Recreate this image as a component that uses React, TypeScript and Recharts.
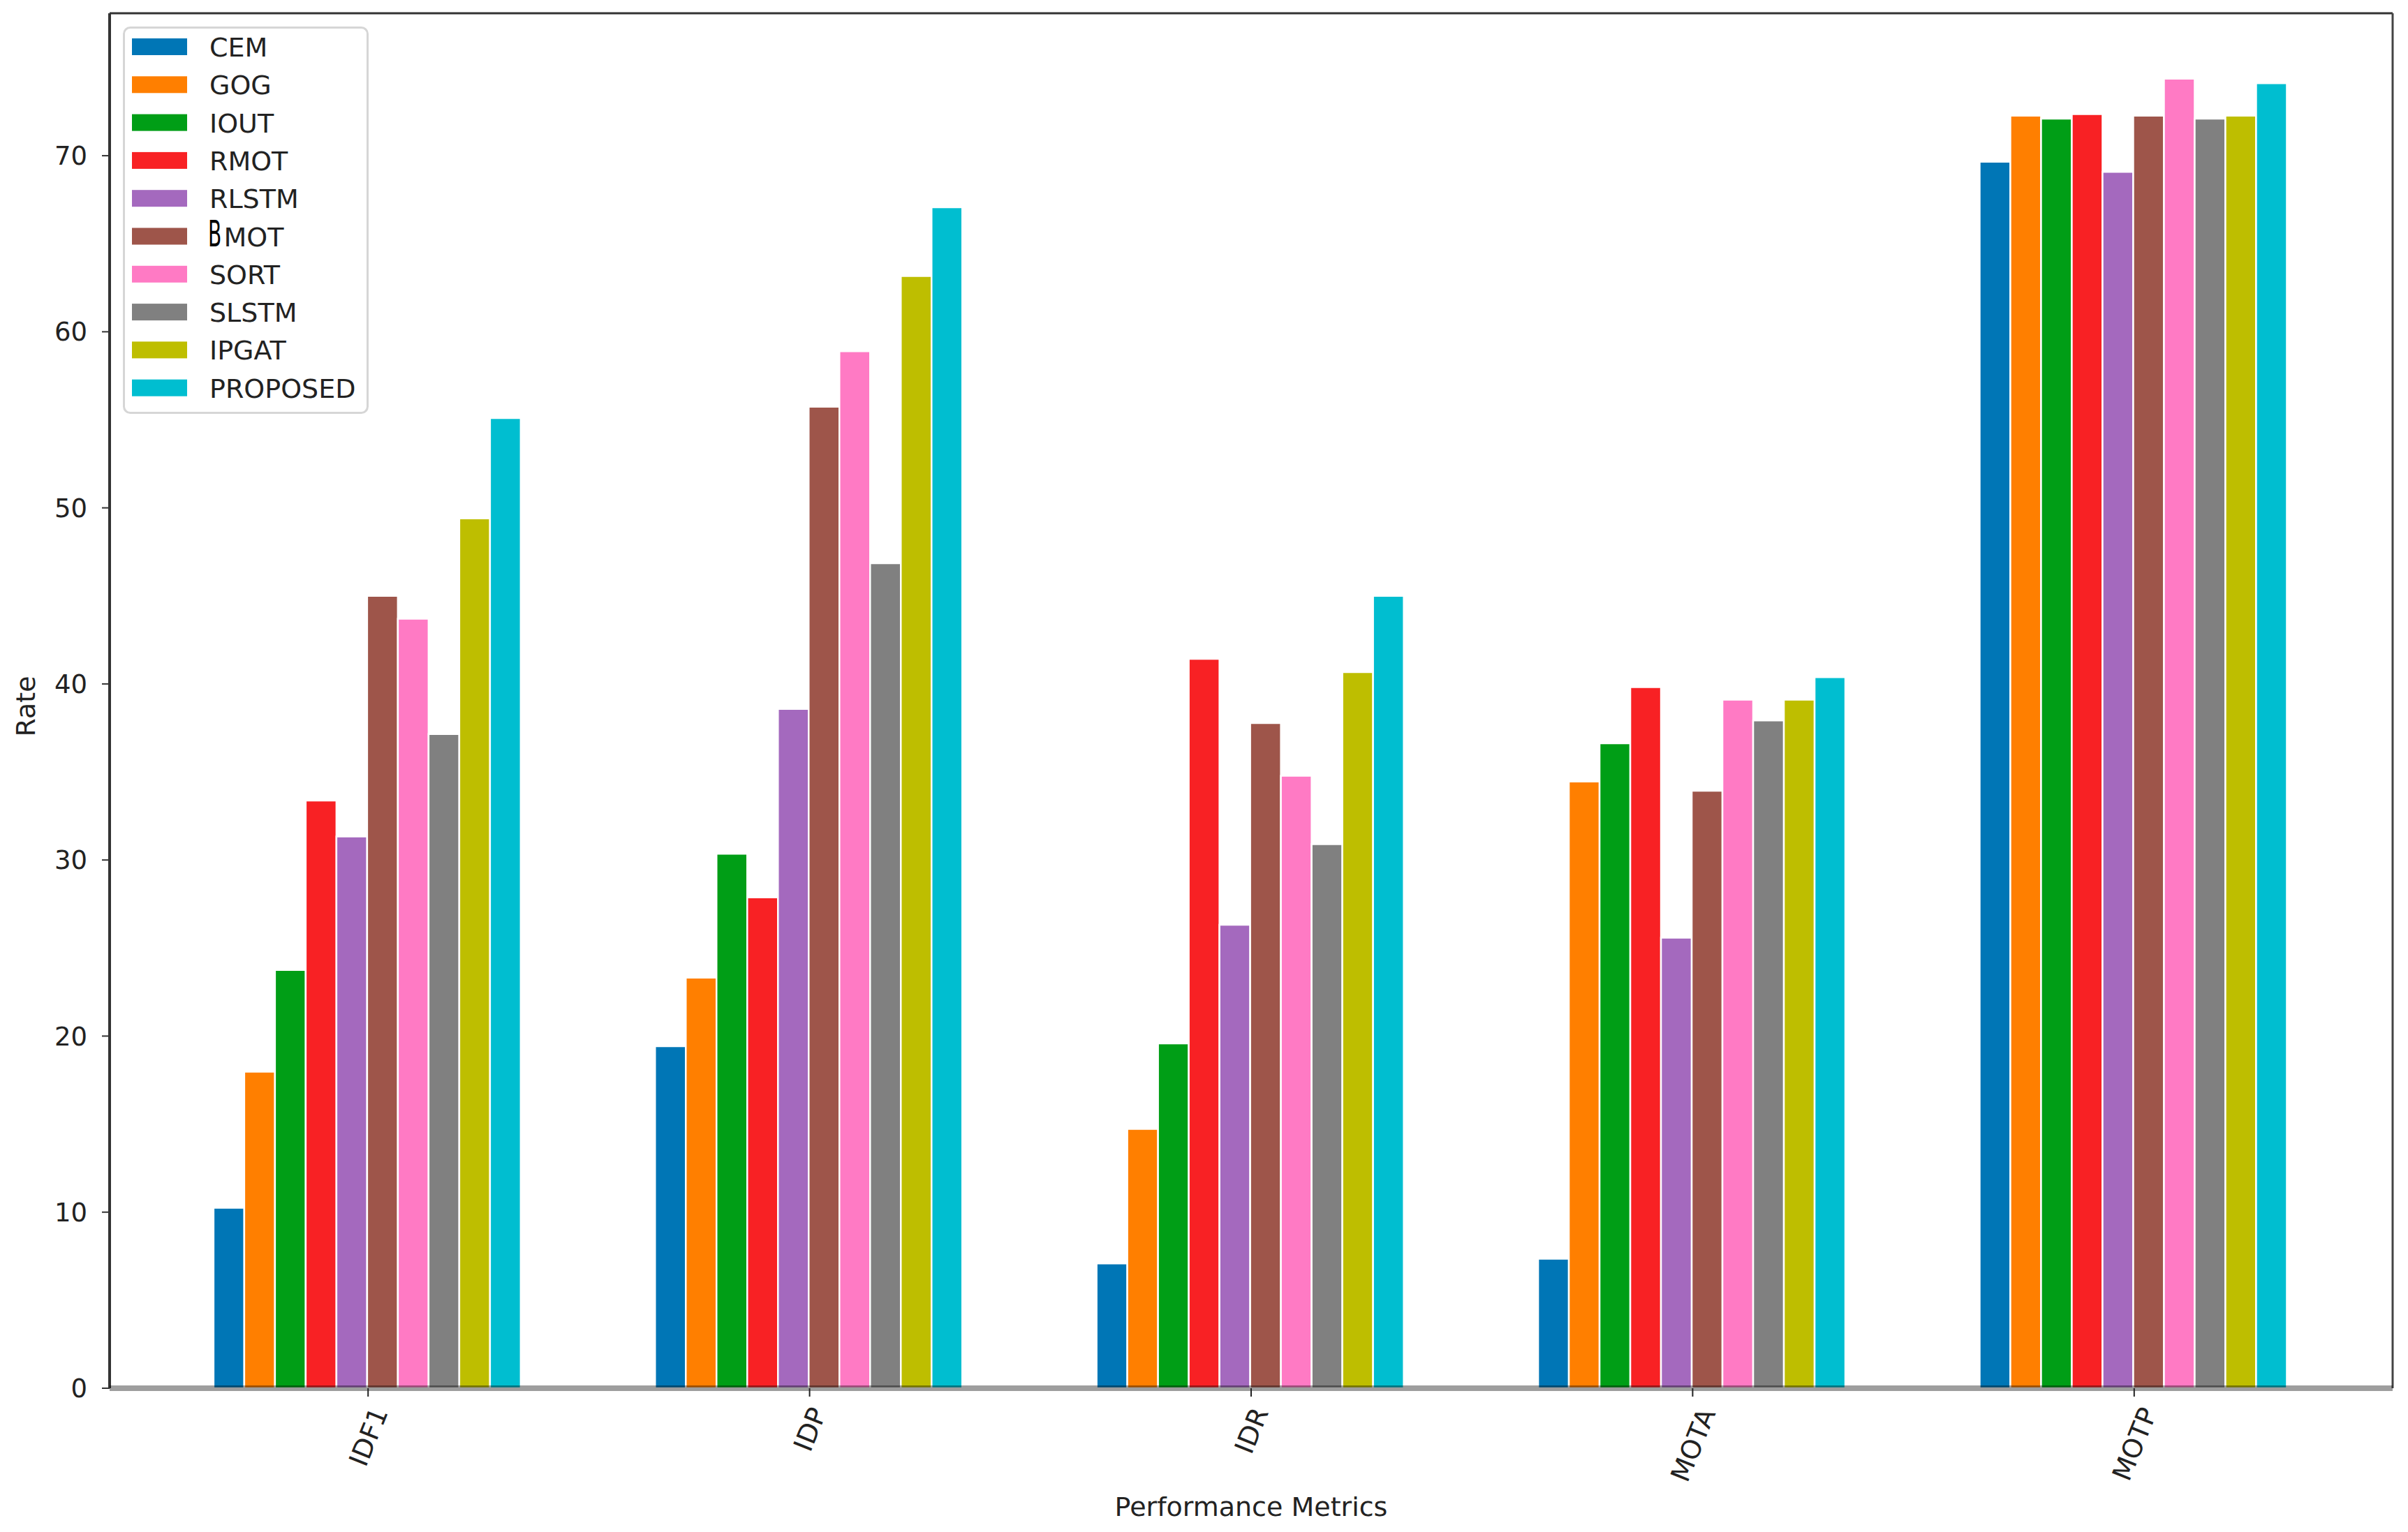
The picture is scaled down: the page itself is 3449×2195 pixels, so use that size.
import React from 'react';
import { BarChart, Bar, XAxis, YAxis, Legend } from 'recharts';

const METRICS = ['IDF1', 'IDP', 'IDR', 'MOTA', 'MOTP'];
const CEM = [10.25, 19.42, 7.09, 7.35, 69.66];
const GOG = [17.98, 23.32, 14.73, 34.46, 72.27];
const IOUT = [23.75, 30.35, 19.58, 36.63, 72.1];
const RMOT = [33.38, 27.88, 41.42, 39.82, 72.36];
const RLSTM = [31.34, 38.58, 26.32, 25.59, 69.08];
const BMOT = [45.0, 55.74, 37.78, 33.93, 72.27];
const SORT = [43.7, 58.89, 34.78, 39.1, 74.37];
const SLSTM = [37.15, 46.85, 30.9, 37.93, 72.1];
const IPGAT = [49.4, 63.17, 40.67, 39.1, 72.27];
const PROPOSED = [55.1, 67.07, 45.0, 40.38, 74.12];

const Y_TICKS = [0, 10, 20, 30, 40, 50, 60, 70];
const Y_MAX = 78.09;

const SERIES_NAMES = ['CEM', 'GOG', 'IOUT', 'RMOT', 'RLSTM', 'BMOT', 'SORT', 'SLSTM', 'IPGAT', 'PROPOSED'];
const SERIES_VALUES = [CEM, GOG, IOUT, RMOT, RLSTM, BMOT, SORT, SLSTM, IPGAT, PROPOSED];
const SERIES_COLORS = ['#0076B6', '#FF7F00', '#009E16', '#F82124', '#A469BE', '#9E554A', '#FF7AC4', '#808080', '#BEBE00', '#00BED0'];

const data = METRICS.map((m, i) => {
  const row: Record<string, any> = { metric: m };
  SERIES_NAMES.forEach((s, j) => {
    row[s] = SERIES_VALUES[j][i];
  });
  return row;
});

const FONT = 'DejaVu Sans';
const TEXT = '#222';

const CHAR_W: Record<string, number> = {
  I: 0.295, D: 0.77, F: 0.575, '1': 0.636, P: 0.603, R: 0.695, M: 0.863, O: 0.787, T: 0.611, A: 0.684,
};

const ANGLE = 68;

const XTick = (props: any) => {
  const { x, y, payload } = props;
  const fs = 38;
  const th = (ANGLE * Math.PI) / 180;
  const label = String(payload.value);
  const L = [...label].reduce((s, c) => s + (CHAR_W[c] ?? 0.65), 0) * fs;
  const h = fs * 0.73;
  const H = L * Math.sin(th) + h * Math.cos(th);
  const cy = y + H / 2;
  return (
    <text
      x={x}
      y={cy}
      dy={h / 2}
      textAnchor="middle"
      transform={`rotate(-${ANGLE}, ${x}, ${cy})`}
      fontSize={fs}
      fontFamily={FONT}
      fill={TEXT}
    >
      {label}
    </text>
  );
};

const XTitle = (props: any) => {
  const vb = props.viewBox || { x: 149, y: 1981, width: 3270, height: 198 };
  return (
    <text x={vb.x + vb.width / 2} y={vb.y + 183} textAnchor="middle" fontSize={38} fontFamily={FONT} fill={TEXT}>
      Performance Metrics
    </text>
  );
};

const YTitle = (props: any) => {
  const vb = props.viewBox || { x: 0, y: 11, width: 149, height: 1970 };
  const cx = 29;
  const cy = vb.y + vb.height / 2 + 8;
  return (
    <text
      x={cx}
      y={cy}
      dy={13}
      textAnchor="middle"
      transform={`rotate(-90, ${cx}, ${cy})`}
      fontSize={38}
      fontFamily={FONT}
      fill={TEXT}
    >
      Rate
    </text>
  );
};

const LegendBox = (props: any) => {
  const raw: any[] = props.payload && props.payload.length ? props.payload : [];
  const items = SERIES_NAMES.map((n, i) => {
    const found = raw.find((p: any) => String(p.value) === n);
    return { value: n, color: (found && found.color) || SERIES_COLORS[i] };
  });
  const W = 352;
  const H = 555;
  const fs = 38;
  return (
    <svg width={W} height={H} style={{ display: 'block', overflow: 'visible' }}>
      <rect x={1.5} y={1.5} width={W - 3} height={H - 3} rx={9} ry={9} fill="#fff" fillOpacity={0.8} stroke="#d6d6d6" strokeWidth={3} />
      {items.map((it: any, i: number) => {
        const cy = 29 + i * 54.3;
        const name = String(it.value);
        return (
          <g key={name}>
            <rect x={13} y={cy - 12} width={79} height={24} fill={it.color} />
            {name === 'BMOT' ? (
              <g>
                <g transform={`translate(122, ${cy + 14}) scale(0.55, 1)`}>
                  <text x={0} y={0} fontSize={51} fontFamily={FONT} fill="#000">
                    B
                  </text>
                </g>
                <text x={144.5} y={cy + 14} fontSize={fs} fontFamily={FONT} fill={TEXT}>
                  MOT
                </text>
              </g>
            ) : (
              <text x={124} y={cy + 14} fontSize={fs} fontFamily={FONT} fill={TEXT}>
                {name}
              </text>
            )}
          </g>
        );
      })}
    </svg>
  );
};

export default function App() {
  return (
    <div style={{ width: 3433, height: 2179, background: '#fff' }}>
      <BarChart
        width={3433}
        height={2179}
        data={data}
        margin={{ top: 10, right: 13, bottom: 0, left: 0 }}
        barCategoryGap="15%"
        barGap={0}
      >
        <XAxis
          xAxisId="t"
          orientation="top"
          dataKey="metric"
          height={1}
          tick={false}
          tickLine={false}
          axisLine={{ stroke: '#333', strokeWidth: 3 }}
          padding={{ left: 54, right: 54 }}
        />
        <YAxis
          yAxisId="r"
          orientation="right"
          width={1}
          type="number"
          domain={[0, Y_MAX]}
          tick={false}
          tickLine={false}
          axisLine={{ stroke: '#444', strokeWidth: 3 }}
        />
        <YAxis
          type="number"
          domain={[0, Y_MAX]}
          ticks={Y_TICKS}
          interval={0}
          allowDataOverflow
          width={149}
          tickSize={11}
          tickMargin={21}
          axisLine={{ stroke: '#333', strokeWidth: 4 }}
          tickLine={{ stroke: '#333', strokeWidth: 2 }}
          tick={{ fontSize: 37, fill: TEXT, fontFamily: FONT }}
          label={<YTitle />}
        />
        {SERIES_NAMES.map((s, i) => (
          <Bar
            key={s}
            dataKey={s}
            name={s}
            fill={SERIES_COLORS[i]}
            stroke="#fff"
            strokeWidth={2.5}
            isAnimationActive={false}
          />
        ))}
        <XAxis
          dataKey="metric"
          height={198}
          padding={{ left: 54, right: 54 }}
          interval={0}
          tickSize={12}
          tickMargin={12}
          axisLine={{ stroke: '#000', strokeOpacity: 0.38, strokeWidth: 8 }}
          tickLine={{ stroke: '#222', strokeWidth: 2 }}
          tick={<XTick />}
          label={<XTitle />}
        />
        <Legend
          layout="vertical"
          align="center"
          verticalAlign="middle"
          content={<LegendBox />}
          wrapperStyle={{ left: 168, top: 30, width: 352, height: 555 }}
        />
      </BarChart>
    </div>
  );
}
